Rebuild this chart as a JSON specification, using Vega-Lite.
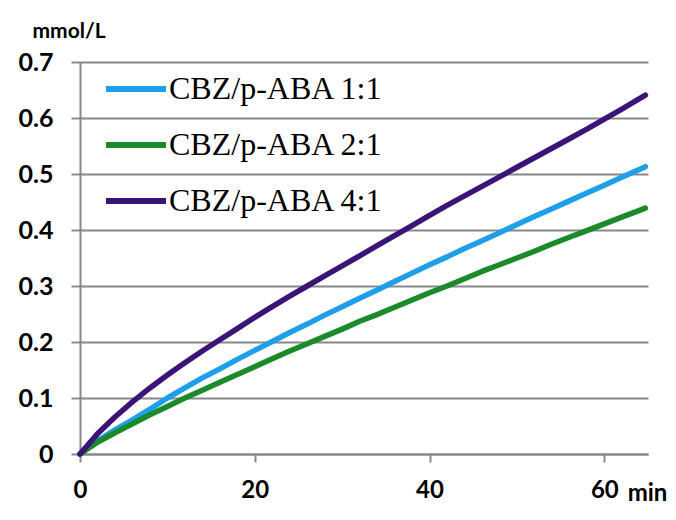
{
  "$schema": "https://vega.github.io/schema/vega-lite/v6.json",
  "autosize": "none",
  "width": 568,
  "height": 392,
  "padding": {"left": 80, "top": 62, "right": 28, "bottom": 66},
  "background": "white",
  "datasets": {
    "curves": [
      {"t": 0, "c": 0, "s": "CBZ/p-ABA 1:1"},
      {"t": 2, "c": 0.023, "s": "CBZ/p-ABA 1:1"},
      {"t": 4, "c": 0.043, "s": "CBZ/p-ABA 1:1"},
      {"t": 6, "c": 0.061, "s": "CBZ/p-ABA 1:1"},
      {"t": 8, "c": 0.080, "s": "CBZ/p-ABA 1:1"},
      {"t": 10, "c": 0.100, "s": "CBZ/p-ABA 1:1"},
      {"t": 12, "c": 0.118, "s": "CBZ/p-ABA 1:1"},
      {"t": 14, "c": 0.136, "s": "CBZ/p-ABA 1:1"},
      {"t": 16, "c": 0.152, "s": "CBZ/p-ABA 1:1"},
      {"t": 18, "c": 0.169, "s": "CBZ/p-ABA 1:1"},
      {"t": 20, "c": 0.185, "s": "CBZ/p-ABA 1:1"},
      {"t": 22, "c": 0.201, "s": "CBZ/p-ABA 1:1"},
      {"t": 24, "c": 0.217, "s": "CBZ/p-ABA 1:1"},
      {"t": 26, "c": 0.232, "s": "CBZ/p-ABA 1:1"},
      {"t": 28, "c": 0.248, "s": "CBZ/p-ABA 1:1"},
      {"t": 30, "c": 0.263, "s": "CBZ/p-ABA 1:1"},
      {"t": 32, "c": 0.278, "s": "CBZ/p-ABA 1:1"},
      {"t": 34, "c": 0.293, "s": "CBZ/p-ABA 1:1"},
      {"t": 36, "c": 0.308, "s": "CBZ/p-ABA 1:1"},
      {"t": 38, "c": 0.323, "s": "CBZ/p-ABA 1:1"},
      {"t": 40, "c": 0.338, "s": "CBZ/p-ABA 1:1"},
      {"t": 42, "c": 0.352, "s": "CBZ/p-ABA 1:1"},
      {"t": 44, "c": 0.367, "s": "CBZ/p-ABA 1:1"},
      {"t": 46, "c": 0.381, "s": "CBZ/p-ABA 1:1"},
      {"t": 48, "c": 0.395, "s": "CBZ/p-ABA 1:1"},
      {"t": 50, "c": 0.410, "s": "CBZ/p-ABA 1:1"},
      {"t": 52, "c": 0.424, "s": "CBZ/p-ABA 1:1"},
      {"t": 54, "c": 0.438, "s": "CBZ/p-ABA 1:1"},
      {"t": 56, "c": 0.452, "s": "CBZ/p-ABA 1:1"},
      {"t": 58, "c": 0.466, "s": "CBZ/p-ABA 1:1"},
      {"t": 60, "c": 0.480, "s": "CBZ/p-ABA 1:1"},
      {"t": 62, "c": 0.494, "s": "CBZ/p-ABA 1:1"},
      {"t": 64.7, "c": 0.513, "s": "CBZ/p-ABA 1:1"},
      {"t": 0, "c": 0, "s": "CBZ/p-ABA 2:1"},
      {"t": 2, "c": 0.021, "s": "CBZ/p-ABA 2:1"},
      {"t": 4, "c": 0.038, "s": "CBZ/p-ABA 2:1"},
      {"t": 6, "c": 0.054, "s": "CBZ/p-ABA 2:1"},
      {"t": 8, "c": 0.070, "s": "CBZ/p-ABA 2:1"},
      {"t": 10, "c": 0.085, "s": "CBZ/p-ABA 2:1"},
      {"t": 12, "c": 0.100, "s": "CBZ/p-ABA 2:1"},
      {"t": 14, "c": 0.114, "s": "CBZ/p-ABA 2:1"},
      {"t": 16, "c": 0.128, "s": "CBZ/p-ABA 2:1"},
      {"t": 18, "c": 0.142, "s": "CBZ/p-ABA 2:1"},
      {"t": 20, "c": 0.156, "s": "CBZ/p-ABA 2:1"},
      {"t": 22, "c": 0.170, "s": "CBZ/p-ABA 2:1"},
      {"t": 24, "c": 0.184, "s": "CBZ/p-ABA 2:1"},
      {"t": 26, "c": 0.197, "s": "CBZ/p-ABA 2:1"},
      {"t": 28, "c": 0.210, "s": "CBZ/p-ABA 2:1"},
      {"t": 30, "c": 0.223, "s": "CBZ/p-ABA 2:1"},
      {"t": 32, "c": 0.237, "s": "CBZ/p-ABA 2:1"},
      {"t": 34, "c": 0.249, "s": "CBZ/p-ABA 2:1"},
      {"t": 36, "c": 0.262, "s": "CBZ/p-ABA 2:1"},
      {"t": 38, "c": 0.275, "s": "CBZ/p-ABA 2:1"},
      {"t": 40, "c": 0.288, "s": "CBZ/p-ABA 2:1"},
      {"t": 42, "c": 0.300, "s": "CBZ/p-ABA 2:1"},
      {"t": 44, "c": 0.313, "s": "CBZ/p-ABA 2:1"},
      {"t": 46, "c": 0.326, "s": "CBZ/p-ABA 2:1"},
      {"t": 48, "c": 0.338, "s": "CBZ/p-ABA 2:1"},
      {"t": 50, "c": 0.350, "s": "CBZ/p-ABA 2:1"},
      {"t": 52, "c": 0.362, "s": "CBZ/p-ABA 2:1"},
      {"t": 54, "c": 0.375, "s": "CBZ/p-ABA 2:1"},
      {"t": 56, "c": 0.387, "s": "CBZ/p-ABA 2:1"},
      {"t": 58, "c": 0.399, "s": "CBZ/p-ABA 2:1"},
      {"t": 60, "c": 0.411, "s": "CBZ/p-ABA 2:1"},
      {"t": 62, "c": 0.423, "s": "CBZ/p-ABA 2:1"},
      {"t": 64.7, "c": 0.439, "s": "CBZ/p-ABA 2:1"},
      {"t": 0, "c": 0, "s": "CBZ/p-ABA 4:1"},
      {"t": 2, "c": 0.036, "s": "CBZ/p-ABA 4:1"},
      {"t": 4, "c": 0.066, "s": "CBZ/p-ABA 4:1"},
      {"t": 6, "c": 0.093, "s": "CBZ/p-ABA 4:1"},
      {"t": 8, "c": 0.118, "s": "CBZ/p-ABA 4:1"},
      {"t": 10, "c": 0.141, "s": "CBZ/p-ABA 4:1"},
      {"t": 12, "c": 0.163, "s": "CBZ/p-ABA 4:1"},
      {"t": 14, "c": 0.184, "s": "CBZ/p-ABA 4:1"},
      {"t": 16, "c": 0.204, "s": "CBZ/p-ABA 4:1"},
      {"t": 18, "c": 0.224, "s": "CBZ/p-ABA 4:1"},
      {"t": 20, "c": 0.244, "s": "CBZ/p-ABA 4:1"},
      {"t": 22, "c": 0.263, "s": "CBZ/p-ABA 4:1"},
      {"t": 24, "c": 0.282, "s": "CBZ/p-ABA 4:1"},
      {"t": 26, "c": 0.300, "s": "CBZ/p-ABA 4:1"},
      {"t": 28, "c": 0.318, "s": "CBZ/p-ABA 4:1"},
      {"t": 30, "c": 0.336, "s": "CBZ/p-ABA 4:1"},
      {"t": 32, "c": 0.354, "s": "CBZ/p-ABA 4:1"},
      {"t": 34, "c": 0.372, "s": "CBZ/p-ABA 4:1"},
      {"t": 36, "c": 0.390, "s": "CBZ/p-ABA 4:1"},
      {"t": 38, "c": 0.408, "s": "CBZ/p-ABA 4:1"},
      {"t": 40, "c": 0.426, "s": "CBZ/p-ABA 4:1"},
      {"t": 42, "c": 0.444, "s": "CBZ/p-ABA 4:1"},
      {"t": 44, "c": 0.461, "s": "CBZ/p-ABA 4:1"},
      {"t": 46, "c": 0.478, "s": "CBZ/p-ABA 4:1"},
      {"t": 48, "c": 0.495, "s": "CBZ/p-ABA 4:1"},
      {"t": 50, "c": 0.512, "s": "CBZ/p-ABA 4:1"},
      {"t": 52, "c": 0.529, "s": "CBZ/p-ABA 4:1"},
      {"t": 54, "c": 0.546, "s": "CBZ/p-ABA 4:1"},
      {"t": 56, "c": 0.563, "s": "CBZ/p-ABA 4:1"},
      {"t": 58, "c": 0.580, "s": "CBZ/p-ABA 4:1"},
      {"t": 60, "c": 0.598, "s": "CBZ/p-ABA 4:1"},
      {"t": 62, "c": 0.616, "s": "CBZ/p-ABA 4:1"},
      {"t": 64.7, "c": 0.641, "s": "CBZ/p-ABA 4:1"}
    ]
  },
  "data": {"name": "curves"},
  "mark": {"type": "line", "strokeWidth": 5.5, "strokeCap": "round", "strokeJoin": "round", "clip": false},
  "encoding": {
    "x": {
      "field": "t",
      "type": "quantitative",
      "scale": {"domain": [0, 65], "nice": false, "zero": true},
      "axis": {
        "values": [0, 20, 40, 60],
        "grid": false,
        "domainColor": "#888888",
        "domainWidth": 2,
        "tickColor": "#888888",
        "tickWidth": 2,
        "tickSize": 8,
        "labelFont": "Lato",
        "labelFontWeight": "bold",
        "labelFontSize": 24,
        "labelColor": "#000000",
        "labelPadding": 16,
        "labelFlush": false,
        "title": "min",
        "titleFont": "Lato",
        "titleFontWeight": "bold",
        "titleFontSize": 24,
        "titleColor": "#000000",
        "titleX": 567,
        "titleY": 39,
        "titleAlign": "center",
        "titleBaseline": "middle",
        "titleAnchor": null
      }
    },
    "y": {
      "field": "c",
      "type": "quantitative",
      "scale": {"domain": [0, 0.7], "nice": false},
      "axis": {
        "values": [0, 0.1, 0.2, 0.3, 0.4, 0.5, 0.6, 0.7],
        "format": "~g",
        "grid": true,
        "gridColor": "#888888",
        "gridWidth": 2,
        "gridOpacity": 1,
        "domainColor": "#888888",
        "domainWidth": 2,
        "tickColor": "#888888",
        "tickWidth": 2,
        "tickSize": 9,
        "labelFont": "Lato",
        "labelFontWeight": "bold",
        "labelFontSize": 25,
        "labelColor": "#000000",
        "labelPadding": 18,
        "labelFlush": false,
        "title": "mmol/L",
        "titleFont": "Lato",
        "titleFontWeight": "bold",
        "titleFontSize": 21,
        "titleColor": "#000000",
        "titleAngle": 0,
        "titleX": -48,
        "titleY": -31,
        "titleAlign": "left",
        "titleBaseline": "middle",
        "titleAnchor": null
      }
    },
    "color": {
      "field": "s",
      "type": "nominal",
      "scale": {
        "domain": ["CBZ/p-ABA 1:1", "CBZ/p-ABA 2:1", "CBZ/p-ABA 4:1"],
        "range": ["#1E9FE8", "#1B8A2A", "#3B1477"]
      },
      "legend": {
        "orient": "none",
        "legendX": 23,
        "legendY": -6,
        "padding": 0,
        "title": null,
        "symbolType": "stroke",
        "symbolSize": 3600,
        "symbolStrokeWidth": 6,
        "labelFont": "Liberation Serif",
        "labelFontSize": 32,
        "labelColor": "#000000",
        "labelOffset": 0,
        "labelLimit": 400,
        "rowPadding": 7
      }
    }
  },
  "config": {
    "view": {"stroke": null}
  }
}
